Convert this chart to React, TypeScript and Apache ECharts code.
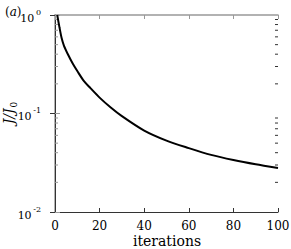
import React, { useEffect, useRef } from "react";
import * as echarts from "echarts";

const iterations = [1, 2, 3, 4, 6, 8, 10, 13, 16, 20, 25, 30, 40, 50, 60, 70, 80, 90, 100];
const costRatio = [1.0, 0.75, 0.58, 0.49, 0.39, 0.32, 0.27, 0.213, 0.18, 0.145, 0.115, 0.094, 0.067, 0.053, 0.0445, 0.038, 0.0337, 0.0305, 0.028];
const xTicks = [0, 20, 40, 60, 80, 100];
const yMajor = [0.01, 0.1, 1];
const yMinor = [0.02, 0.03, 0.04, 0.05, 0.06, 0.07, 0.08, 0.09, 0.2, 0.3, 0.4, 0.5, 0.6, 0.7, 0.8, 0.9];
const xTitle = "iterations";
const panelTag = "a";

const FONT = "DejaVu Serif";

export default function App() {
  const ref = useRef<HTMLDivElement>(null);
  useEffect(() => {
    if (!ref.current) return;
    const chart = echarts.init(ref.current, null, { renderer: "svg" });
    const supLabel = (v: number) => {
      const e = Math.round(Math.log10(v));
      return `{b|10}{g| }{s|${e === 0 ? "0" : "-" + Math.abs(e)}}`;
    };
    chart.setOption({
      animation: false,
      backgroundColor: "#fff",
      textStyle: { fontFamily: FONT },
      title: {
        text: `({i|${panelTag}})`,
        left: 0,
        top: 1,
        textStyle: {
          fontFamily: FONT,
          fontSize: 12,
          fontWeight: "normal",
          color: "#000",
          rich: { i: { fontFamily: FONT, fontSize: 12, fontStyle: "italic", color: "#000" } },
        },
      },
      graphic: [
        {
          type: "text",
          x: 167,
          y: 241,
          style: {
            text: xTitle,
            fontFamily: FONT,
            fontSize: 14,
            fill: "#000",
            align: "center",
            verticalAlign: "middle",
          },
        },
        {
          type: "text",
          x: 9,
          y: 113,
          rotation: Math.PI / 2,
          style: {
            text: "{i|J/J}{s|0}",
            align: "center",
            verticalAlign: "middle",
            rich: {
              i: { fontFamily: FONT, fontSize: 14, fontStyle: "italic", fill: "#000", lineHeight: 18 },
              s: { fontFamily: FONT, fontSize: 9, fill: "#000", verticalAlign: "bottom", lineHeight: 18, padding: [7, 0, 0, 1] },
            },
          },
        },
      ],
      grid: { left: 55, right: 13, top: 15, bottom: 37, outerBoundsMode: "none", containLabel: false },
      xAxis: [
        {
          type: "value",
          min: xTicks[0],
          max: xTicks[xTicks.length - 1],
          interval: 20,
          axisLine: { show: true, lineStyle: { color: "#333", width: 1 } },
          axisTick: { show: true, inside: true, length: 4, lineStyle: { color: "#333" } },
          axisLabel: { fontFamily: FONT, fontSize: 12, color: "#000", margin: 8 },
          splitLine: { show: false },
        },
        {
          type: "value",
          position: "top",
          min: xTicks[0],
          max: xTicks[xTicks.length - 1],
          interval: 20,
          axisLine: { show: true, lineStyle: { color: "#999", width: 1.5 } },
          axisTick: { show: true, inside: true, length: 4, lineStyle: { color: "#999" } },
          axisLabel: { show: false },
          splitLine: { show: false },
        },
      ],
      yAxis: [
        {
          type: "log",
          logBase: 10,
          min: yMajor[0],
          max: yMajor[yMajor.length - 1],
          axisLine: { show: true, lineStyle: { color: "#999", width: 1.5 } },
          axisTick: { show: true, inside: true, length: 5, lineStyle: { color: "#999" } },
          axisLabel: {
            formatter: supLabel,
            margin: 14,
            rich: {
              b: { fontFamily: FONT, fontSize: 11, color: "#000", lineHeight: 14, padding: [6, 0, 0, 0] },
              g: { fontFamily: FONT, fontSize: 5, color: "#000", lineHeight: 14 },
              s: { fontFamily: FONT, fontSize: 8, color: "#000", verticalAlign: "top", lineHeight: 12 },
            },
          },
          splitLine: { show: false },
        },
        {
          type: "log",
          logBase: 10,
          position: "right",
          min: yMajor[0],
          max: yMajor[yMajor.length - 1],
          axisLine: { show: true, lineStyle: { color: "#333", width: 1 } },
          axisTick: { show: true, inside: true, length: 5, lineStyle: { color: "#333" } },
          axisLabel: { show: false },
          splitLine: { show: false },
        },
      ],
      series: [
        {
          type: "line",
          data: iterations.map((x, i) => [x, costRatio[i]]),
          smooth: 0.3,
          showSymbol: false,
          lineStyle: { color: "#000", width: 2 },
          z: 5,
        },
        {
          type: "custom",
          data: yMinor.map((v) => [0, v]),
          renderItem: (params: any, api: any) => {
            const v = api.value(1);
            const l = api.coord([0, v]);
            const r = api.coord([100, v]);
            return {
              type: "group",
              children: [
                { type: "line", shape: { x1: l[0], y1: l[1], x2: l[0] + 3, y2: l[1] }, style: { stroke: "#999", lineWidth: 1 } },
                { type: "line", shape: { x1: r[0], y1: r[1], x2: r[0] - 3, y2: r[1] }, style: { stroke: "#333", lineWidth: 1 } },
              ],
            };
          },
          z: 3,
        },
      ],
    });
    return () => chart.dispose();
  }, []);
  return <div ref={ref} style={{ position: "fixed", left: 0, top: 0, width: 291, height: 249 }} />;
}
